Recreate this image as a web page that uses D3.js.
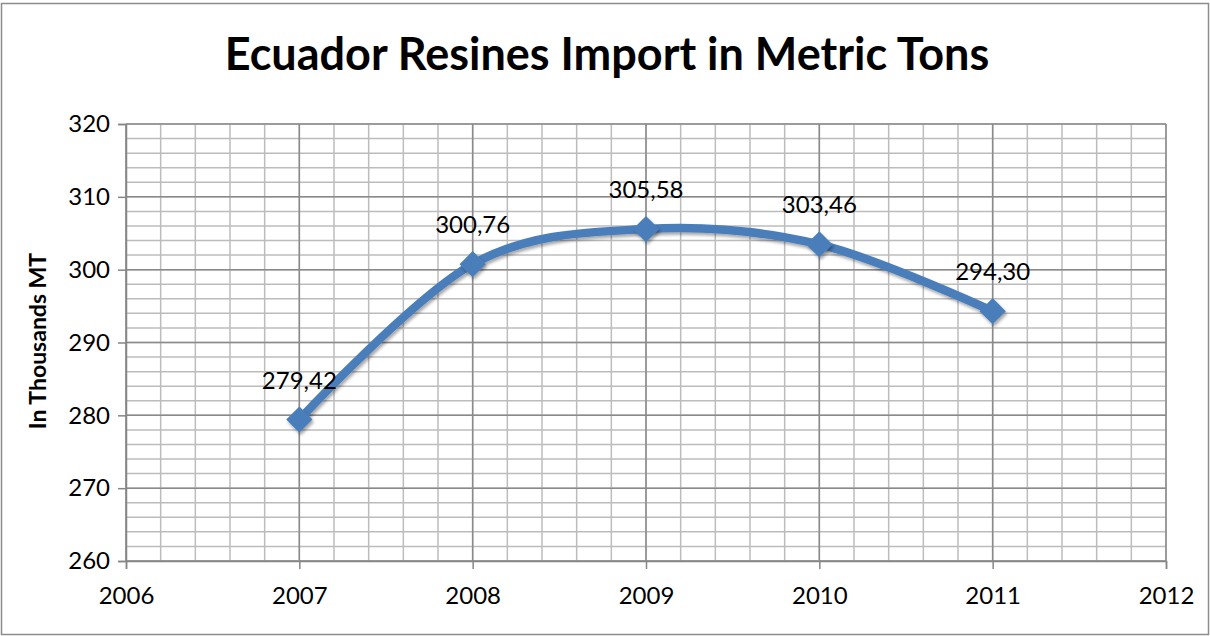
<!DOCTYPE html>
<html>
<head>
<meta charset="utf-8">
<script src="https://cdn.jsdelivr.net/npm/d3@7"></script>
<style>
  body { margin: 0; background: #fff; }
  text { font-family: Lato, "Open Sans", sans-serif; }
</style>
</head>
<body>
<script>
var years = [2007, 2008, 2009, 2010, 2011];
var imports = [279.42, 300.76, 305.58, 303.46, 294.30];
var labels = ["279,42", "300,76", "305,58", "303,46", "294,30"];
var xTicks = [2006, 2007, 2008, 2009, 2010, 2011, 2012];
var yTicks = [260, 270, 280, 290, 300, 310, 320];

var svgWidth = 1210;
var svgHeight = 636;

var margin = { top: 124, right: 44, bottom: 75, left: 126 };
var width = 1166 - margin.left;
var height = 561 - margin.top;

var svg = d3.select("body")
  .append("svg")
  .attr("width", svgWidth)
  .attr("height", svgHeight);

// drop shadow for the line and markers
var defs = svg.append("defs");
var shadow = defs.append("filter").attr("id", "shadow")
  .attr("x", "-20%").attr("y", "-20%").attr("width", "140%").attr("height", "140%");
shadow.append("feDropShadow")
  .attr("dx", 1.5).attr("dy", 2.5).attr("stdDeviation", 1.8)
  .attr("flood-color", "#000").attr("flood-opacity", 0.35);

// outer chart border
svg.append("rect")
  .attr("x", 1.5).attr("y", 3.5)
  .attr("width", svgWidth - 3).attr("height", svgHeight - 5)
  .attr("fill", "none").attr("stroke", "#8c8c8c").attr("stroke-width", 1.5);

svg.append("text")
  .attr("x", 607).attr("y", 70)
  .attr("text-anchor", "middle")
  .attr("font-size", 45).attr("font-weight", "bold")
  .text("Ecuador Resines Import in Metric Tons");

var chartGroup = svg.append("g")
  .attr("transform", `translate(${margin.left}, ${margin.top})`);

var xScale = d3.scaleLinear().domain([2006, 2012]).range([0, width]);
var yScale = d3.scaleLinear().domain([260, 320]).range([height, 0]);

// minor grid
var xMinor = d3.range(2006, 2012.001, 0.2);
var yMinor = d3.range(260, 320.001, 2);

chartGroup.append("g").selectAll("line")
  .data(yMinor).enter().append("line")
  .attr("x1", 0).attr("x2", width)
  .attr("y1", d => yScale(d)).attr("y2", d => yScale(d))
  .attr("stroke", "#bcbcbc").attr("stroke-width", 1.5);

chartGroup.append("g").selectAll("line")
  .data(xMinor).enter().append("line")
  .attr("y1", 0).attr("y2", height)
  .attr("x1", d => xScale(d)).attr("x2", d => xScale(d))
  .attr("stroke", "#bcbcbc").attr("stroke-width", 1.5);

// major grid
chartGroup.append("g").selectAll("line")
  .data(yTicks).enter().append("line")
  .attr("x1", 0).attr("x2", width)
  .attr("y1", d => yScale(d)).attr("y2", d => yScale(d))
  .attr("stroke", "#8a8a8a").attr("stroke-width", 1.5);

chartGroup.append("g").selectAll("line")
  .data(xTicks).enter().append("line")
  .attr("y1", 0).attr("y2", height)
  .attr("x1", d => xScale(d)).attr("x2", d => xScale(d))
  .attr("stroke", "#8a8a8a").attr("stroke-width", 1.5);

// axes
var bottomAxis = d3.axisBottom(xScale).tickValues(xTicks).tickFormat(d3.format("d"))
  .tickSize(8).tickPadding(18);
var leftAxis = d3.axisLeft(yScale).tickValues(yTicks).tickSize(8).tickPadding(8);

var gx = chartGroup.append("g")
  .attr("transform", `translate(0, ${height})`)
  .call(bottomAxis);
var gy = chartGroup.append("g").call(leftAxis);

[gx, gy].forEach(function(g) {
  g.select(".domain").attr("stroke", "#868686").attr("stroke-width", 1.5);
  g.selectAll(".tick line").attr("stroke", "#868686").attr("stroke-width", 1.5);
  g.selectAll(".tick text").attr("font-family", "Lato, sans-serif")
    .attr("font-size", 24).attr("fill", "#000");
});

svg.append("text")
  .attr("transform", "translate(46, 341) rotate(-90)")
  .attr("text-anchor", "middle")
  .attr("font-size", 23).attr("font-weight", "bold")
  .text("In Thousands MT");

var points = years.map((y, i) => ({ year: y, value: imports[i], label: labels[i] }));

var line = d3.line()
  .x(d => xScale(d.year))
  .y(d => yScale(d.value))
  .curve(d3.curveCardinal.tension(0));

chartGroup.append("path")
  .datum(points)
  .attr("d", line)
  .attr("fill", "none")
  .attr("stroke", "#4a7ebb")
  .attr("stroke-width", 8.5)
  .attr("stroke-linecap", "round")
  .attr("filter", "url(#shadow)");

chartGroup.append("g").selectAll("path")
  .data(points).enter().append("path")
  .attr("transform", d => `translate(${xScale(d.year)}, ${yScale(d.value)})`)
  .attr("d", d3.symbol().type(d3.symbolDiamond2).size(440))
  .attr("fill", "#4a7ebb")
  .attr("filter", "url(#shadow)");

chartGroup.append("g").selectAll("text")
  .data(points).enter().append("text")
  .attr("x", d => xScale(d.year))
  .attr("y", d => yScale(d.value) - 31)
  .attr("text-anchor", "middle")
  .attr("font-size", 24)
  .text(d => d.label);
</script>
</body>
</html>
